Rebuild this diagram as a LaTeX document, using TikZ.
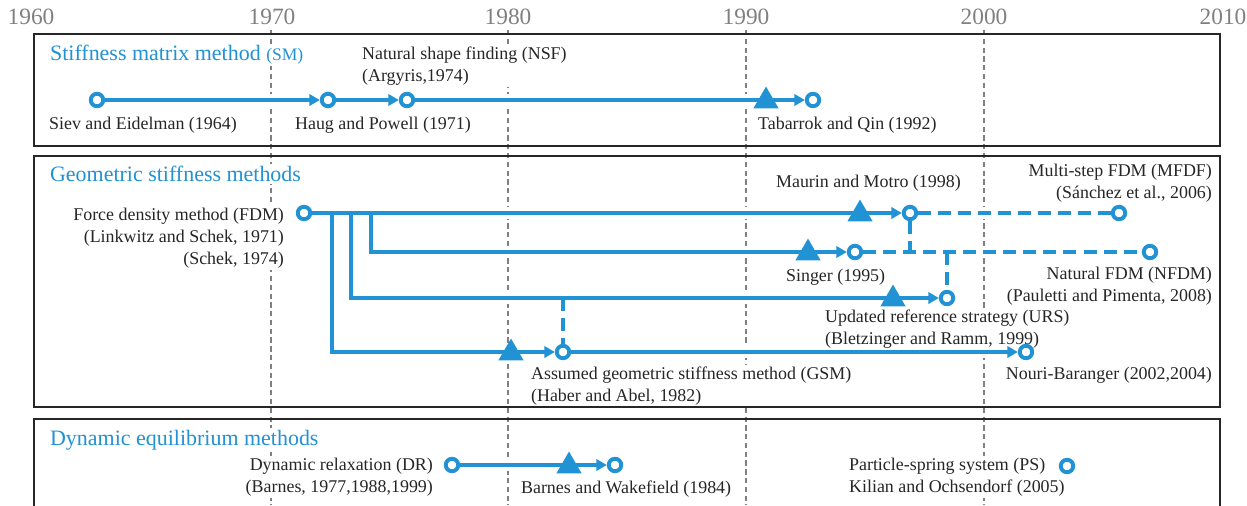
\documentclass[tikz,border=0pt]{standalone}
\usepackage{fontspec}
\setmainfont{Liberation Serif}
\usetikzlibrary{arrows.meta,shapes.geometric}
\definecolor{fblue}{RGB}{33,146,211}
\definecolor{ygray}{RGB}{128,128,128}
\pgfdeclarelayer{grid}\pgfdeclarelayer{halo}\pgfdeclarelayer{text}
\pgfsetlayers{grid,halo,text,main}
\newcommand{\lblfont}{\fontsize{10.2}{12.5}\selectfont}
\newcommand{\ttlfont}{\fontsize{12.5}{15}\selectfont}
\newcommand{\myconn}[2][]{\begin{pgfonlayer}{halo}\draw[halo] #2;\end{pgfonlayer}\draw[flow,#1] #2;}
\tikzset{
 flow/.style={draw=fblue, line width=2.2pt, line join=miter},
 arr/.style={-{Triangle[length=6pt,width=6.5pt]}},
 dsh/.style={dash pattern=on 7.4pt off 4pt},
 halo/.style={draw=white, line width=7pt},
 ev/.style={circle, draw=fblue, fill=white, line width=2.2pt, minimum size=0.25cm, inner sep=0pt},
 mk/.style={regular polygon, regular polygon sides=3, fill=fblue, minimum size=0.58cm, inner sep=0pt},
 lbl/.style={font=\lblfont, text=black!85, fill=white, inner sep=1pt},
 ttl/.style={font=\ttlfont, text=fblue, fill=white, inner sep=1pt, anchor=west},
 yr/.style={font=\fontsize{13.3}{15}\selectfont, text=ygray, inner sep=1pt},
 grd/.style={draw=ygray, line width=0.9pt, dash pattern=on 3pt off 2pt},
 frame/.style={draw=black!85, line width=1.2pt},
}
\begin{document}
\begin{tikzpicture}[x=0.02cm,y=-0.02cm]
\useasboundingbox (0,0) rectangle (1247,505);
% year labels and grid lines
\foreach \yy/\xx in {1960/31,1970/272,1980/508,1990/746,2000/984,2010/1223}
  \node[yr] (y\yy) at (\xx,17) {\yy};
\begin{pgfonlayer}{grid}
\foreach \yy/\xx in {1970/271,1980/508,1990/746,2000/984}
  \draw[grd] (\xx,30) -- (\xx,505);
\end{pgfonlayer}
% frames
\draw[frame] (34,34) rectangle (1220,146);
\draw[frame] (34,156) rectangle (1220,407);
\draw[frame] (34,506) -- (34,419) -- (1220,419) -- (1220,506);
% texts
\begin{pgfonlayer}{text}
\node[ttl] (tsm) at (48,55) {Stiffness matrix method {\fontsize{10}{12}\selectfont(SM)}};
\node[ttl] (tgs) at (48,174) {Geometric stiffness methods};
\node[ttl] (tde) at (48,440) {Dynamic equilibrium methods};
\node[lbl,anchor=west] (lsev) at (47,125) {Siev and Eidelman (1964)};
\node[lbl,anchor=west] (lhp) at (293,125) {Haug and Powell (1971)};
\node[lbl,anchor=west,align=left] (lnsf) at (360,66) {Natural shape finding (NSF)\\(Argyris,1974)};
\node[lbl,anchor=west] (ltq) at (756,125) {Tabarrok and Qin (1992)};
\node[lbl,anchor=east,align=right] (lfdm) at (286,238) {Force density method (FDM)\\(Linkwitz and Schek, 1971)\\(Schek, 1974)};
\node[lbl,anchor=west] (lmm) at (774,183) {Maurin and Motro (1998)};
\node[lbl,anchor=east,align=right] (lmfdf) at (1214,183) {Multi-step FDM (MFDF)\\(Sánchez et al., 2006)};
\node[lbl,anchor=west] (lsing) at (784,277) {Singer (1995)};
\node[lbl,anchor=east,align=right] (lnfdm) at (1214,286) {Natural FDM (NFDM)\\(Pauletti and Pimenta, 2008)};
\node[lbl,anchor=west,align=left] (lurs) at (823,329) {Updated reference strategy (URS)\\(Bletzinger and Ramm, 1999)};
\node[lbl,anchor=west,align=left] (lgsm) at (529,386) {Assumed geometric stiffness method (GSM)\\(Haber and Abel, 1982)};
\node[lbl,anchor=east] (lnb) at (1214,375) {Nouri-Baranger (2002,2004)};
\node[lbl,anchor=east,align=right] (ldr) at (435,477) {Dynamic relaxation (DR)\\(Barnes, 1977,1988,1999)};
\node[lbl,anchor=west] (lbw) at (519,489) {Barnes and Wakefield (1984)};
\node[lbl,anchor=west,align=left] (lps) at (847,477) {Particle-spring system (PS)\\Kilian and Ochsendorf (2005)};
\end{pgfonlayer}
% stiffness matrix row
\node[ev] (sev) at (97,100) {};
\node[ev] (hp) at (328,100) {};
\node[ev] (nsf) at (407,100) {};
\node[ev] (tq) at (813,100) {};
\myconn[arr]{(sev) -- (hp)}
\myconn[arr]{(hp) -- (nsf)}
\myconn[arr]{(nsf) -- (tq)}
\node[mk] (k1) at (766,101) {};
% geometric stiffness rows
\node[ev] (fdm) at (304,213) {};
\node[ev] (mm) at (910,213) {};
\node[ev] (mfdf) at (1119,213) {};
\node[ev] (sing) at (855,252) {};
\node[ev] (nfdm) at (1150,252) {};
\node[ev] (urs) at (947,298) {};
\node[ev] (gsm) at (563,352) {};
\node[ev] (nb) at (1026,352) {};
\coordinate (b1) at (332,213);
\coordinate (b2) at (351,213);
\coordinate (b3) at (371,213);
\coordinate (g3) at (gsm |- urs);
\coordinate (m2) at (mm |- sing);
\coordinate (u2) at (urs |- sing);
\myconn[arr]{(b1) |- (gsm)}
\myconn[arr]{(b2) |- (urs)}
\myconn[arr]{(b3) |- (sing)}
\myconn[arr]{(fdm) -- (mm)}
\myconn[dsh]{(mm) -- (mfdf)}
\myconn[dsh]{(mm) -- (m2)}
\myconn[dsh]{(sing) -- (nfdm)}
\myconn[dsh]{(u2) -- (urs)}
\myconn[dsh]{(g3) -- (gsm)}
\myconn[arr]{(gsm) -- (nb)}
\node[mk] (k2) at (860,214) {};
\node[mk] (k3) at (808,253) {};
\node[mk] (k4) at (893,299) {};
\node[mk] (k5) at (511,353) {};
% dynamic equilibrium row
\node[ev] (dr) at (452,465) {};
\node[ev] (bw) at (615,465) {};
\node[ev] (ps) at (1067,466) {};
\myconn[arr]{(dr) -- (bw)}
\node[mk] (k6) at (569,466) {};
\end{tikzpicture}
\end{document}
